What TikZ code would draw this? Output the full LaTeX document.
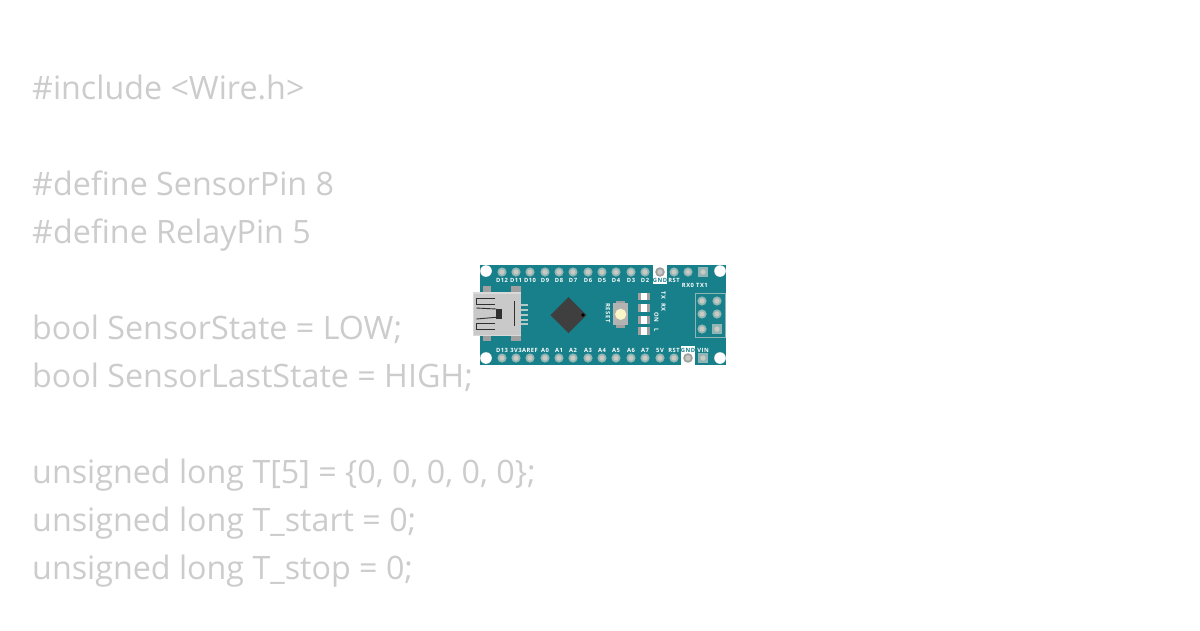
\documentclass[tikz,border=0pt]{standalone}
\usepackage{fontspec}
\setmainfont{Open Sans}
\newfontfamily\silkfont[LetterSpace=9,BoldFont={* Bold}]{Open Sans}
\definecolor{board}{HTML}{17808A}
\definecolor{codegrey}{HTML}{CCCCCC}
\definecolor{pinring}{HTML}{8FB5B4}
\definecolor{pincore}{HTML}{C9C9C4}
\definecolor{usbbody}{HTML}{C9C9C9}
\definecolor{usbedge}{HTML}{DADADA}
\definecolor{usbdark}{HTML}{A0A0A0}
\definecolor{usbline}{HTML}{303030}
\definecolor{usbpin}{HTML}{B4C8C6}
\definecolor{chipc}{HTML}{3F3F40}
\definecolor{cream}{HTML}{FBF6C8}
\tikzset{
  x=1pt,y=-1pt,
  code/.style={anchor=base west,inner sep=0pt,font=\fontsize{32.25}{32}\selectfont,text=codegrey},
  silk/.style={inner sep=0pt,font=\fontsize{5.8}{6}\silkfont\bfseries,text=white},
  usbwire/.style={draw=usbline,line width=0.9},
}
\newcommand{\boardpin}[2]{\fill[pinring] (#1,#2) circle (4.6); \fill[pincore] (#1,#2) circle (2.7);}
\newcommand{\squarepin}[2]{\fill[pinring] (#1-5,#2-5) rectangle (#1+5,#2+5); \fill[pincore] (#1,#2) circle (2.7);}
\newcommand{\gndpin}[2]{\fill[white] (#1-7,#2-7) rectangle (#1+7,#2+7); \fill[usbdark] (#1,#2) circle (4.8); \fill[pincore] (#1,#2) circle (2.8);}
\newcommand{\ledpart}[1]{\fill[usbdark] (637.5,#1) rectangle (649.5,#1+7.5); \fill[white] (640.5,#1) rectangle (646.5,#1+7.5);}
\begin{document}
\begin{tikzpicture}
\useasboundingbox (0,0) rectangle (1200,630);
\fill[white] (0,0) rectangle (1200,630);
% code text
\node[code] (l1) at (32,99) {\#include <Wire.h>};
\node[code] (l2) at (32,195) {\#define SensorPin 8};
\node[code] (l3) at (32,243) {\#define RelayPin 5};
\node[code] (l4) at (32,339) {bool SensorState = LOW;};
\node[code] (l5) at (32,387) {bool SensorLastState = HIGH;};
\node[code] (l6) at (32,483) {unsigned long T[5] = \{0, 0, 0, 0, 0\};};
\node[code] (l7) at (32,531) {unsigned long T\_start = 0;};
\node[code] (l8) at (32,579) {unsigned long T\_stop = 0;};
% board
\fill[board] (480,265) rectangle (726,365);
\foreach \p in {486,720}{
  \fill[white] (\p,271) circle (5.8);
  \fill[white] (\p,358) circle (5.8);
}
% header pins
\foreach \p in {502,516,530,545,559,573,588,602,616,631,645,674,688}{\boardpin{\p}{272}}
\foreach \p in {502,516,530,545,559,573,588,602,616,631,645,660,674}{\boardpin{\p}{358}}
\gndpin{660}{272}
\gndpin{688}{358}
\squarepin{703}{272}
\squarepin{703}{358}
% silk labels, top
\foreach \p/\t in {502/D12,516/D11,530/D10,545/D9,559/D8,573/D7,588/D6,602/D5,616/D4,631/D3,645/D2,674/RST}{
  \node[silk] at (\p,280.5) {\t};
}
\fill[white] (653,277) rectangle (667,284);
\node[silk,text=board] at (660,280.5) {GND};
\node[silk] at (688,285) {RX0};
\node[silk] at (702,285) {TX1};
% silk labels, bottom
\foreach \p/\t in {502/D13,516/3V3,530/AREF,545/A0,559/A1,573/A2,588/A3,602/A4,616/A5,631/A6,645/A7,660/5V,674/RST,703/VIN}{
  \node[silk] at (\p,350) {\t};
}
\fill[white] (681,346) rectangle (695,353);
\node[silk,text=board] at (688,350) {GND};
% USB connector
\fill[usbdark] (483,286) rectangle (491,293);
\fill[usbdark] (511,286) rectangle (520.5,293);
\fill[usbdark] (483,335) rectangle (491,341);
\fill[usbdark] (511,335) rectangle (520.5,341);
\foreach \q in {305,310,315,319.5,324}{\fill[usbpin] (521,\q-1) rectangle (528,\q+1);}
\fill[usbedge] (472.5,292) rectangle (521,336);
\fill[usbbody] (474,293.5) rectangle (520.5,334.5);
\draw[usbwire] (495.3,298) -- (476.3,298) -- (476.3,304) -- (495.3,304);
\draw[usbwire] (476.3,308) -- (496.3,309);
\draw[usbwire] (476.3,319) -- (496.3,317.3);
\fill[usbline] (496.3,309) rectangle (502.3,319);
\draw[usbwire] (495.3,323.3) -- (476.3,323.3) -- (476.3,329) -- (495.3,329);
\draw[usbwire] (514,301) -- (514,326);
% chip
\fill[chipc] (568.5,297) -- (586.5,315) -- (568.5,333) -- (550.5,315) -- cycle;
\fill[black] (583,315) circle (1.8);
% reset button
\fill[usbdark] (616,300.5) rectangle (625,327.5);
\fill[usbdark!80] (613,303) rectangle (628,325);
\fill[cream] (620.7,314.3) circle (5.6);
\node[silk,rotate=-90] at (608,313) {RESET};
% LEDs
\ledpart{292.5}
\ledpart{304}
\ledpart{316}
\ledpart{327}
\node[silk,rotate=-90] at (663.5,295.5) {TX};
\node[silk,rotate=-90] at (663.5,307.5) {RX};
\node[silk,rotate=-90] at (656.5,317) {ON};
\node[silk,rotate=-90] at (656.5,330) {L};
% ICSP header
\draw[pinring,line width=0.9] (695,293) rectangle (725,337);
\foreach \a/\b in {702/301,717/301,702/314,717/314,702/329}{\boardpin{\a}{\b}}
\squarepin{717}{329}
\end{tikzpicture}
\end{document}
